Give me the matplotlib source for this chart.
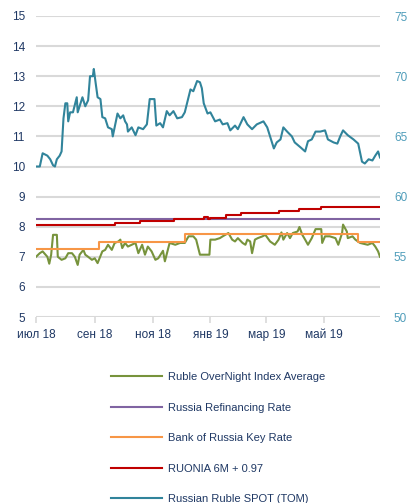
import numpy as np
import pandas as pd
import matplotlib
matplotlib.use('Agg')
import matplotlib.pyplot as plt

plt.rcParams['font.family'] = ['Liberation Sans Narrow', 'Liberation Sans', 'DejaVu Sans']

start = pd.Timestamp('2018-07-01')

# Ruble OverNight Index Average (day offset from start, %)
ruonia_day = [0, 4, 7, 12, 14, 16, 18, 22, 23, 27, 31, 34, 38, 41, 44, 46, 50, 52, 55, 59,
              62, 65, 70, 73, 76, 80, 83, 87, 89, 91, 94, 97, 101, 105, 108, 112, 115, 118, 122, 126,
              129, 134, 136, 141, 147, 152, 157, 161, 166, 169, 173, 183, 184, 189, 194, 197, 203, 207, 210, 213,
              218, 221, 223, 226, 228, 231, 234, 239, 242, 247, 252, 256, 259, 261, 265, 268, 271, 276, 278, 281,
              284, 287, 291, 295, 301, 302, 305, 310, 316, 319, 323, 324, 328, 329, 334, 337, 342, 350, 355, 358,
              361, 363]
ruonia = [7.0, 7.12, 7.18, 7.0, 6.77, 7.07, 7.73, 7.73, 7.0, 6.9, 6.95, 7.12, 7.12, 7.0, 6.73, 7.07, 7.23, 7.07, 7.0, 6.9,
          6.95, 6.79, 7.18, 7.23, 7.4, 7.23, 7.46, 7.51, 7.57, 7.29, 7.46, 7.34, 7.4, 7.46, 7.12, 7.4, 7.07, 7.34, 7.18, 6.9,
          6.95, 7.2, 6.85, 7.46, 7.4, 7.46, 7.46, 7.68, 7.68, 7.57, 7.07, 7.07, 7.57, 7.57, 7.62, 7.68, 7.79, 7.57, 7.51, 7.62,
          7.46, 7.4, 7.57, 7.51, 7.12, 7.57, 7.62, 7.68, 7.73, 7.51, 7.4, 7.57, 7.81, 7.57, 7.79, 7.62, 7.79, 7.84, 7.99, 7.73,
          7.57, 7.4, 7.62, 7.92, 7.92, 7.46, 7.68, 7.68, 7.62, 7.4, 7.79, 8.07, 7.84, 7.62, 7.68, 7.57, 7.46, 7.4, 7.46, 7.34,
          7.18, 7.0]

# Russia Refinancing Rate
refi_day = [0, 363]
refi = [8.25, 8.25]

# Bank of Russia Key Rate (step changes)
key_day = [0, 66, 157, 340, 363]
key = [7.25, 7.5, 7.75, 7.5, 7.5]

# RUONIA 6M + 0.97 (step changes)
r6m_day = [0, 83, 110, 146, 177, 181, 184, 200, 216, 256, 277, 301, 363]
r6m = [8.05, 8.12, 8.19, 8.26, 8.33, 8.26, 8.30, 8.40, 8.47, 8.52, 8.58, 8.65, 8.65]

# Russian Ruble SPOT (TOM), right axis
spot_day = [0, 4, 7, 12, 15, 18, 20, 22, 25, 27, 29, 31, 33, 34, 36, 39, 43, 44, 49, 52,
            55, 57, 60, 61, 63, 65, 68, 70, 73, 76, 80, 81, 86, 89, 92, 94, 96, 97, 101, 105,
            108, 113, 117, 120, 125, 127, 131, 134, 138, 141, 145, 149, 154, 157, 163, 166, 170, 173, 175, 177,
            181, 184, 189, 194, 197, 202, 205, 210, 213, 219, 223, 228, 233, 240, 244, 247, 251, 254, 258, 261,
            265, 270, 273, 279, 284, 287, 291, 295, 300, 305, 308, 314, 318, 321, 324, 329, 335, 340, 344, 347,
            351, 355, 358, 361, 363]
spot = [62.5, 62.5, 63.6, 63.4, 63.1, 62.6, 62.5, 63.1, 63.4, 63.75, 66.5, 67.75, 67.75, 66.25, 67.0, 67.0, 68.25, 67.0, 68.25, 67.5,
        68.0, 70.0, 70.0, 70.6, 69.4, 68.25, 68.1, 66.6, 66.5, 65.75, 65.6, 65.0, 66.9, 66.5, 66.75, 66.25, 66.0, 65.4, 65.75, 65.1,
        65.75, 65.6, 66.0, 68.1, 68.1, 65.9, 66.1, 65.75, 67.1, 66.75, 67.1, 66.5, 66.6, 67.0, 68.9, 68.75, 69.6, 69.5, 69.0, 67.75,
        66.9, 67.0, 66.25, 66.4, 66.0, 66.1, 65.5, 65.9, 65.6, 66.6, 66.0, 65.6, 66.0, 66.25, 65.75, 65.0, 64.0, 64.5, 64.75, 65.75,
        65.4, 65.0, 64.5, 64.1, 63.75, 64.6, 64.75, 65.4, 65.4, 65.5, 64.75, 64.5, 64.4, 65.0, 65.5, 65.1, 64.75, 64.4, 62.9, 62.75,
        63.1, 63.0, 63.4, 63.75, 63.25]

labels = ['Ruble OverNight Index Average', 'Russia Refinancing Rate', 'Bank of Russia Key Rate',
          'RUONIA 6M + 0.97', 'Russian Ruble SPOT (TOM)']
month_ticks = ['2018-07-01', '2018-09-01', '2018-11-01', '2019-01-01', '2019-03-01', '2019-05-01']
month_labels = ['июл 18', 'сен 18', 'ноя 18', 'янв 19', 'мар 19', 'май 19']


def dates(days):
    return start + pd.to_timedelta(days, unit='D')


navy = '#1f3864'
teal_txt = '#4f9dba'
grid_c = '#d9d9d9'

fig = plt.figure(figsize=(4.18, 5.03), dpi=100)
ax = fig.add_axes([36 / 418, 1 - 317 / 503, (380 - 36) / 418, (317 - 16) / 503])
ax2 = ax.twinx()

l1, = ax.plot(dates(ruonia_day), ruonia, color='#77933c', lw=1.5)
l2, = ax.plot(dates(refi_day), refi, color='#8064a2', lw=1.5)
l3, = ax.step(dates(key_day), key, where='post', color='#f79646', lw=1.5)
l4, = ax.step(dates(r6m_day), r6m, where='post', color='#c00000', lw=1.5)
l5, = ax2.plot(dates(spot_day), spot, color='#31849b', lw=1.5)

ax.set_ylim(5, 15)
ax.set_yticks(range(5, 16))
ax2.set_ylim(50, 75)
ax2.set_yticks(range(50, 76, 5))
ax.set_xlim(start, dates([363])[0])
ax.set_xticks(pd.to_datetime(month_ticks))
ax.set_xticklabels(month_labels)

ax.grid(axis='y', color=grid_c, lw=1.5)
ax.set_axisbelow(True)
for a in (ax, ax2):
    for s in a.spines.values():
        s.set_visible(False)
ax.tick_params(axis='y', length=0, pad=8, labelsize=8.5, labelcolor=navy)
ax2.tick_params(axis='y', length=0, pad=10, labelsize=8.5, labelcolor=teal_txt)
ax.tick_params(axis='x', length=4, color=grid_c, width=1.2, pad=11, labelsize=8.5, labelcolor=navy)
for t in ax.get_xticklabels():
    t.set_verticalalignment('baseline')

fig.legend([l1, l2, l3, l4, l5], labels, loc='upper left', bbox_to_anchor=(101 / 418, 1 - 362 / 503),
           frameon=False, fontsize=8, handlelength=4.6, handletextpad=0.5, labelspacing=1.85,
           labelcolor=navy)

fig.savefig('out.png', dpi=100)
